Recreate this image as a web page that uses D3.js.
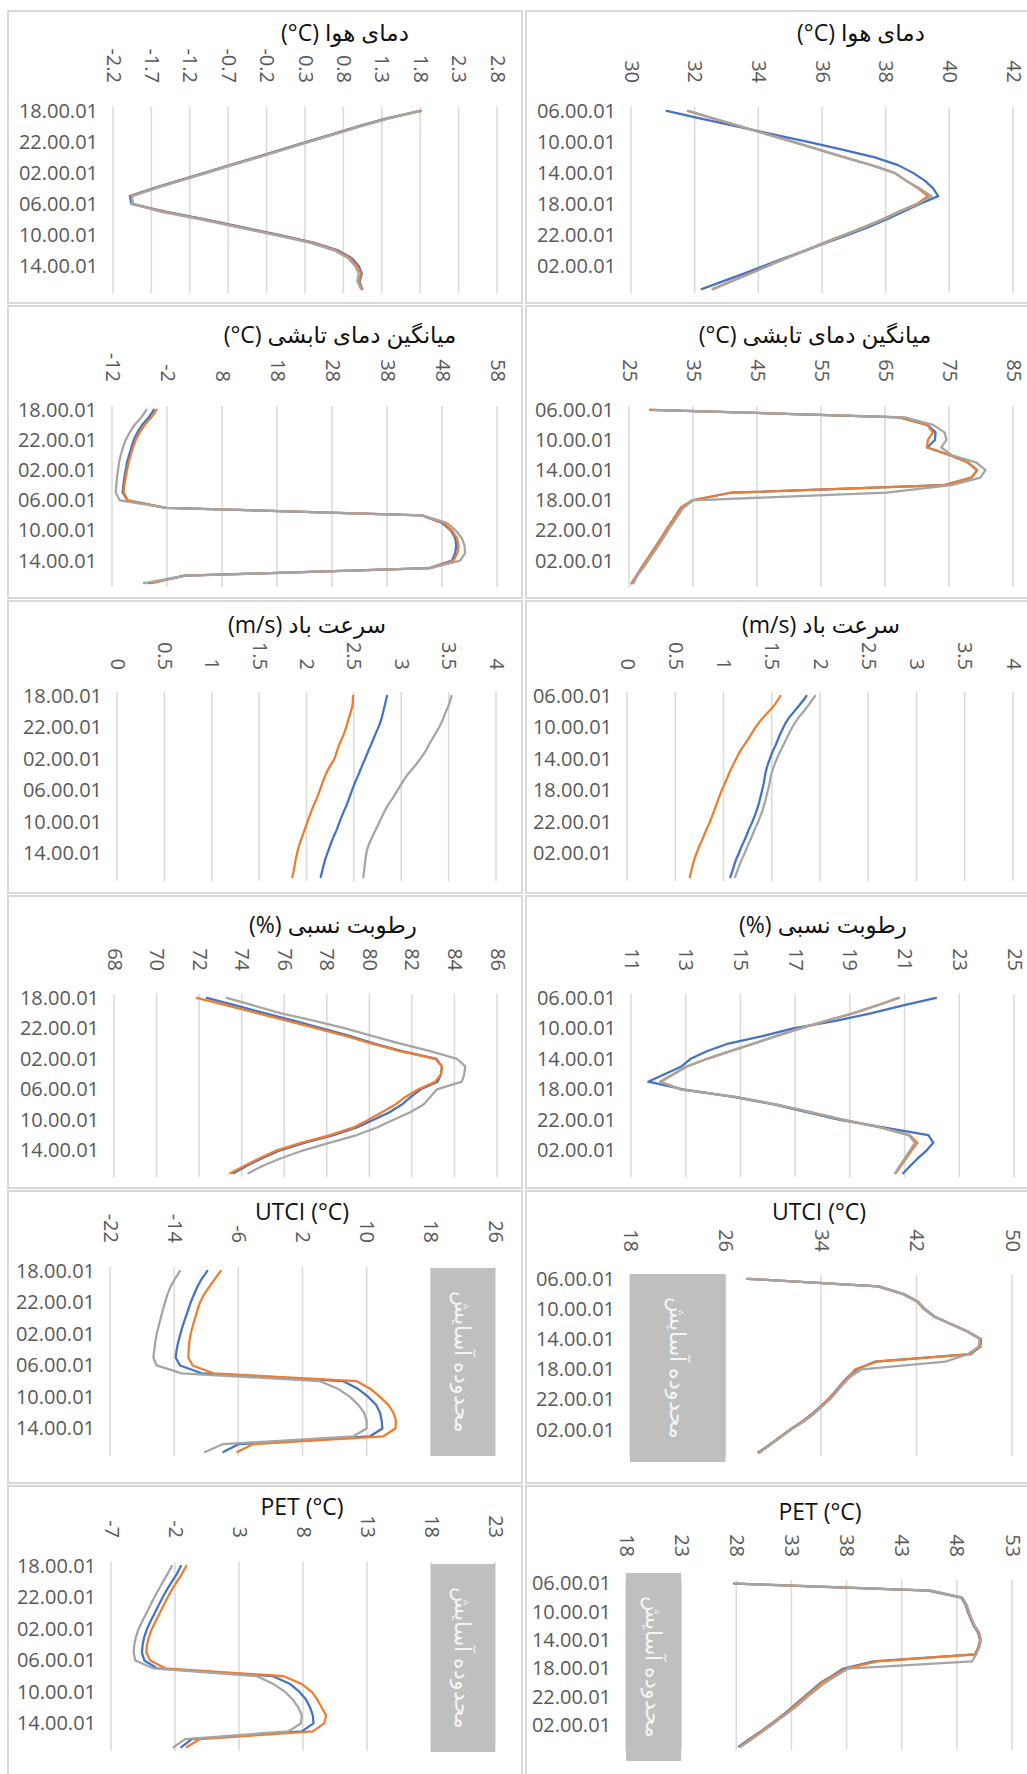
<!DOCTYPE html>
<html>
<head>
<meta charset="utf-8">
<script src="https://cdn.jsdelivr.net/npm/d3@7"></script>
<style>
  html, body { margin: 0; padding: 0; background: #fff; }
  svg text { font-family: "Open Sans", "DejaVu Sans", sans-serif; }
</style>
</head>
<body>
<div id="chart"></div>
<script>
// hourly categories (left column starts at 18h, right column at 06h)
var hoursLeft = ["18.00.01","19.00.01","20.00.01","21.00.01","22.00.01","23.00.01","00.00.01","01.00.01",
  "02.00.01","03.00.01","04.00.01","05.00.01","06.00.01","07.00.01","08.00.01","09.00.01",
  "10.00.01","11.00.01","12.00.01","13.00.01","14.00.01","15.00.01","16.00.01","17.00.01"];
var hoursRight = ["06.00.01","07.00.01","08.00.01","09.00.01","10.00.01","11.00.01","12.00.01","13.00.01",
  "14.00.01","15.00.01","16.00.01","17.00.01","18.00.01","19.00.01","20.00.01","21.00.01",
  "22.00.01","23.00.01","00.00.01","01.00.01","02.00.01","03.00.01","04.00.01","05.00.01"];

// value axis ticks
var ticksAirL = [-2.2, -1.7, -1.2, -0.7, -0.2, 0.3, 0.8, 1.3, 1.8, 2.3, 2.8];
var ticksAirR = [30, 32, 34, 36, 38, 40, 42];
var ticksMrtL = [-12, -2, 8, 18, 28, 38, 48, 58];
var ticksMrtR = [25, 35, 45, 55, 65, 75, 85];
var ticksWind = [0, 0.5, 1, 1.5, 2, 2.5, 3, 3.5, 4];
var ticksRhL = [68, 70, 72, 74, 76, 78, 80, 82, 84, 86];
var ticksRhR = [11, 13, 15, 17, 19, 21, 23, 25];
var ticksUtciL = [-22, -14, -6, 2, 10, 18, 26];
var ticksUtciR = [18, 26, 34, 42, 50];
var ticksPetL = [-7, -2, 3, 8, 13, 18, 23];
var ticksPetR = [18, 23, 28, 33, 38, 43, 48, 53];

// comfort ranges
var utciComfort = [18, 26];
var petComfort = [18, 23];

// air temperature
var airL_blue   = [1.80,1.35,0.99,0.66,0.32,-0.01,-0.34,-0.68,-1.01,-1.35,-1.68,-1.98,-1.96,-1.52,-1.00,-0.52,-0.04,0.41,0.73,0.91,1.00,1.04,1.01,1.04];
var airL_orange = [1.81,1.37,1.01,0.68,0.34,0.01,-0.32,-0.66,-0.99,-1.33,-1.66,-1.96,-1.94,-1.55,-1.03,-0.55,-0.07,0.39,0.71,0.89,0.98,1.03,1.00,1.05];
var airL_gray   = [1.79,1.38,1.02,0.69,0.35,0.02,-0.31,-0.65,-0.98,-1.32,-1.65,-1.95,-1.95,-1.58,-1.06,-0.58,-0.10,0.36,0.68,0.86,0.95,1.00,0.98,1.03];
var airR_blue   = [31.12,32.20,33.32,34.42,35.56,36.64,37.66,38.39,38.86,39.23,39.49,39.65,39.07,38.55,38.02,37.45,36.81,36.14,35.49,34.82,34.18,33.55,32.88,32.22];
var airR_orange = [31.78,32.60,33.43,34.25,35.08,35.90,36.70,37.55,38.27,38.64,39.02,39.33,38.98,38.42,37.90,37.32,36.70,36.07,35.49,34.87,34.29,33.72,33.14,32.56];
var airR_gray   = [31.80,32.61,33.45,34.26,35.10,35.91,36.72,37.56,38.29,38.65,39.07,39.44,39.02,38.44,37.92,37.34,36.72,36.09,35.51,34.89,34.31,33.74,33.16,32.58];

// mean radiant temperature
var mrtL_blue   = [-4.4,-5.3,-6.5,-7.4,-8.05,-8.48,-8.9,-9.27,-9.51,-9.75,-9.94,-10.06,-9.2,-2.28,44.35,48.0,49.6,50.4,50.6,50.4,49.8,45.7,1.2,-5.3];
var mrtL_orange = [-3.92,-4.84,-6.05,-6.96,-7.69,-8.17,-8.6,-8.96,-9.27,-9.51,-9.75,-9.87,-9.09,-2.1,44.35,48.3,49.8,50.7,51.0,50.8,50.1,45.9,1.24,-4.8];
var mrtL_gray   = [-5.75,-6.66,-7.87,-8.78,-9.51,-10.0,-10.42,-10.72,-10.9,-11.09,-11.21,-11.33,-10.6,-2.1,44.4,48.9,50.5,51.6,52.1,52.2,51.3,45.9,1.5,-6.2];
var mrtR_blue   = [28.28,67.3,71.6,72.9,72.8,71.6,75.1,77.97,79.4,78.5,74.3,40.9,34.94,33.1,32.34,31.56,30.78,30.05,29.27,28.49,27.7,26.93,26.2,25.42];
var mrtR_orange = [28.28,67.3,71.57,72.5,71.7,71.57,75.1,77.97,79.4,78.5,74.3,40.9,34.94,33.1,32.34,31.56,30.78,30.05,29.27,28.49,27.7,26.93,26.2,25.42];
var mrtR_gray   = [28.8,68.1,72.5,74.3,74.6,73.8,75.4,79.3,80.7,79.9,75.4,65.2,35.0,33.5,32.7,31.9,31.1,30.4,29.6,28.8,28.0,27.2,26.3,25.7];

// wind speed
var windL_blue   = [2.85,2.83,2.81,2.79,2.76,2.72,2.69,2.65,2.62,2.58,2.55,2.51,2.48,2.45,2.42,2.38,2.35,2.32,2.28,2.25,2.22,2.19,2.17,2.15];
var windL_orange = [2.49,2.49,2.47,2.44,2.42,2.39,2.35,2.32,2.30,2.24,2.2,2.17,2.14,2.11,2.07,2.04,2.01,1.98,1.95,1.92,1.9,1.88,1.87,1.85];
var windL_gray   = [3.53,3.51,3.47,3.44,3.4,3.35,3.3,3.26,3.2,3.14,3.06,3.01,2.96,2.91,2.85,2.81,2.77,2.73,2.69,2.65,2.63,2.62,2.61,2.6];
var windR_blue   = [1.86,1.80,1.73,1.66,1.62,1.58,1.55,1.51,1.48,1.45,1.43,1.42,1.40,1.38,1.36,1.33,1.30,1.26,1.23,1.19,1.16,1.12,1.10,1.07];
var windR_orange = [1.59,1.54,1.47,1.39,1.33,1.28,1.23,1.17,1.13,1.09,1.05,1.02,0.98,0.95,0.92,0.89,0.86,0.82,0.79,0.75,0.72,0.69,0.67,0.65];
var windR_gray   = [1.95,1.89,1.83,1.76,1.71,1.67,1.63,1.59,1.55,1.52,1.49,1.48,1.46,1.44,1.42,1.39,1.36,1.32,1.29,1.25,1.22,1.18,1.15,1.12];

// relative humidity
var rhL_blue   = [72.36,73.71,75.07,76.44,77.77,79.07,80.23,81.53,83.15,83.41,83.37,83.21,82.42,81.95,81.53,80.95,80.2,79.41,78.32,76.98,75.81,74.99,74.27,73.61];
var rhL_orange = [71.89,73.3,74.71,76.12,77.53,78.88,80.12,81.45,83.1,83.41,83.37,83.1,82.31,81.69,81.22,80.59,79.96,79.26,78.16,76.83,75.65,74.87,74.16,73.46];
var rhL_gray   = [73.3,74.55,75.81,77.38,78.87,80.12,81.45,82.86,84.12,84.51,84.46,84.35,83.18,82.86,82.55,81.92,81.14,80.36,79.41,78.16,76.9,75.89,75.02,74.32];
var rhR_blue   = [22.15,20.95,19.8,18.52,16.93,15.84,14.56,13.77,13.18,12.85,12.24,11.63,12.91,14.74,16.26,17.42,18.64,20.22,21.87,22.05,21.81,21.5,21.22,20.95];
var rhR_orange = [20.8,20.0,19.15,18.17,17.2,16.34,15.49,14.64,13.79,13.05,12.57,12.08,12.81,14.82,16.34,17.56,18.78,20.12,21.18,21.47,21.26,21.07,20.87,20.68];
var rhR_gray   = [20.77,19.98,19.13,18.15,17.18,16.32,15.47,14.62,13.77,13.03,12.55,12.06,12.79,14.8,16.32,17.54,18.76,20.1,21.14,21.38,21.2,21.02,20.83,20.65];

// UTCI
var utciL_blue   = [-9.86,-10.57,-11.11,-11.53,-11.94,-12.27,-12.61,-12.94,-13.23,-13.48,-13.69,-13.81,-13.27,-10.57,7.09,8.96,10.21,11.17,11.67,11.87,11.96,10.42,-6.0,-7.87];
var utciL_orange = [-8.2,-8.91,-9.61,-10.28,-10.78,-11.11,-11.4,-11.69,-11.94,-12.11,-12.19,-12.23,-11.69,-9.12,8.76,10.5,11.67,12.7,13.33,13.66,13.58,12.08,-4.21,-6.12];
var utciL_gray   = [-13.27,-13.9,-14.44,-14.85,-15.14,-15.43,-15.68,-15.93,-16.18,-16.35,-16.47,-16.6,-16.18,-13.06,4.18,6.47,7.93,8.96,9.67,10.0,10.0,8.34,-7.95,-10.15];
var utciR_blue   = [27.84,38.75,40.9,42.1,42.7,43.5,44.9,46.3,47.4,47.35,46.55,38.5,37.0,36.25,35.7,35.15,34.6,33.9,33.2,32.35,31.4,30.55,29.7,28.76];
var utciR_orange = [27.84,38.82,40.78,42.04,42.6,43.43,44.83,46.23,47.35,47.29,46.51,38.68,36.87,36.31,35.75,35.19,34.63,33.93,33.23,32.39,31.42,30.58,29.74,28.84];
var utciR_gray   = [27.9,38.9,40.85,42.1,42.65,43.5,44.9,46.3,47.3,47.2,46.3,44.41,37.42,36.45,35.85,35.3,34.75,34.05,33.35,32.5,31.5,30.65,29.8,28.9];

// PET
var petL_blue   = [-1.54,-1.85,-2.24,-2.63,-2.97,-3.28,-3.59,-3.9,-4.19,-4.4,-4.53,-4.58,-4.4,-3.41,5.65,7.0,7.73,8.25,8.56,8.77,8.82,7.91,-0.68,-1.51];
var petL_orange = [-1.12,-1.46,-1.85,-2.24,-2.58,-2.89,-3.2,-3.51,-3.8,-4.03,-4.19,-4.24,-3.93,-2.76,6.48,7.91,8.69,9.13,9.47,9.81,9.65,8.77,-0.08,-1.07];
var petL_gray   = [-2.24,-2.58,-2.94,-3.28,-3.62,-3.93,-4.24,-4.55,-4.84,-5.05,-5.18,-5.23,-5.1,-3.72,4.4,5.7,6.61,7.21,7.65,7.91,7.83,6.87,-1.2,-2.11];
var petR_blue   = [27.8,45.44,48.4,48.8,49.0,49.25,49.55,49.95,50.1,49.95,49.65,40.44,37.72,36.7,35.65,34.9,34.15,33.4,32.65,31.85,31.0,30.1,29.15,28.25];
var petR_orange = [27.89,45.59,48.46,48.85,49.06,49.28,49.58,49.97,50.12,49.97,49.67,40.75,37.96,36.81,35.76,35.0,34.24,33.49,32.73,31.91,31.07,30.16,29.25,28.34];
var petR_gray   = [27.95,45.7,48.5,48.9,49.1,49.35,49.65,50.05,50.2,50.05,49.75,49.37,38.17,37.1,36.06,35.24,34.45,33.73,32.9,32.05,31.2,30.3,29.4,28.45];

var seriesColors = ["#4472C4", "#ED7D31", "#A5A5A5"];

// panel table built from the arrays above
var panels = [
  {id: "L1", title: "(°C) دمای هوا", hours: hoursLeft, ticks: ticksAirL, series: [airL_blue, airL_orange, airL_gray]},
  {id: "R1", title: "(°C) دمای هوا", hours: hoursRight, ticks: ticksAirR, series: [airR_blue, airR_orange, airR_gray]},
  {id: "L2", title: "(°C) میانگین دمای تابشی", hours: hoursLeft, ticks: ticksMrtL, series: [mrtL_blue, mrtL_orange, mrtL_gray]},
  {id: "R2", title: "(°C) میانگین دمای تابشی", hours: hoursRight, ticks: ticksMrtR, series: [mrtR_blue, mrtR_orange, mrtR_gray]},
  {id: "L3", title: "(m/s) سرعت باد", hours: hoursLeft, ticks: ticksWind, series: [windL_blue, windL_orange, windL_gray], smooth: true},
  {id: "R3", title: "(m/s) سرعت باد", hours: hoursRight, ticks: ticksWind, series: [windR_blue, windR_orange, windR_gray], smooth: true},
  {id: "L4", title: "(%) رطوبت نسبی", hours: hoursLeft, ticks: ticksRhL, series: [rhL_blue, rhL_orange, rhL_gray]},
  {id: "R4", title: "(%) رطوبت نسبی", hours: hoursRight, ticks: ticksRhR, series: [rhR_blue, rhR_orange, rhR_gray]},
  {id: "L5", title: "UTCI (°C)", hours: hoursLeft, ticks: ticksUtciL, series: [utciL_blue, utciL_orange, utciL_gray], comfort: utciComfort},
  {id: "R5", title: "UTCI (°C)", hours: hoursRight, ticks: ticksUtciR, series: [utciR_blue, utciR_orange, utciR_gray], comfort: utciComfort},
  {id: "L6", title: "PET (°C)", hours: hoursLeft, ticks: ticksPetL, series: [petL_blue, petL_orange, petL_gray], comfort: petComfort},
  {id: "R6", title: "PET (°C)", hours: hoursRight, ticks: ticksPetR, series: [petR_blue, petR_orange, petR_gray], comfort: petComfort}
];

// where each panel's plot area, tick labels and title sit on the page
var layout = {
  L1: {x0: 113, x1: 497, y0: 107, y1: 293, tickY: 83, tx: 345, ty: 33},
  R1: {x0: 631, x1: 1013, y0: 107, y1: 293, tickY: 83, tx: 861, ty: 33},
  L2: {x0: 112, x1: 497, y0: 406, y1: 587, tickY: 382, tx: 340, ty: 335},
  R2: {x0: 629, x1: 1013, y0: 406, y1: 587, tickY: 382, tx: 815, ty: 335},
  L3: {x0: 117, x1: 496, y0: 692, y1: 881, tickY: 670, tx: 307, ty: 625},
  R3: {x0: 627, x1: 1013, y0: 692, y1: 881, tickY: 670, tx: 821, ty: 625},
  L4: {x0: 114, x1: 497, y0: 994, y1: 1177, tickY: 971, tx: 333, ty: 925},
  R4: {x0: 631, x1: 1014, y0: 994, y1: 1177, tickY: 971, tx: 823, ty: 925},
  L5: {x0: 110, x1: 495, y0: 1267, y1: 1456, tickY: 1243, tx: 302, ty: 1212, rt: 1, rb: 0},
  R5: {x0: 630, x1: 1012, y0: 1275, y1: 1456, tickY: 1252, tx: 819, ty: 1212, rt: -1, rb: 6},
  L6: {x0: 111, x1: 495, y0: 1562, y1: 1751, tickY: 1538, tx: 302, ty: 1507, rt: 2, rb: 1},
  R6: {x0: 626, x1: 1012, y0: 1580, y1: 1750, tickY: 1557, tx: 820, ty: 1512, rt: -7, rb: 11}
};

var rowTops = [11, 306, 601, 896, 1191, 1486];
var colEdges = [[8, 522], [526, 1040]];

var svg = d3.select("#chart").append("svg")
    .attr("width", 1027)
    .attr("height", 1774);

svg.append("rect")
    .attr("width", 1027).attr("height", 1774)
    .attr("fill", "#fff");

// panel frames
rowTops.forEach(function (top, r) {
  colEdges.forEach(function (c) {
    svg.append("rect")
        .attr("x", c[0]).attr("y", top)
        .attr("width", c[1] - c[0])
        .attr("height", r === 5 ? 320 : 292)
        .attr("fill", "none")
        .attr("stroke", "#d9d9d9")
        .attr("stroke-width", 2);
  });
});

function drawPanel(p) {
  var L = layout[p.id];
  var g = svg.append("g").attr("class", "panel-" + p.id);

  var x = d3.scaleLinear()
      .domain([p.ticks[0], p.ticks[p.ticks.length - 1]])
      .range([L.x0, L.x1]);
  var y = d3.scalePoint()
      .domain(p.hours)
      .range([L.y0, L.y1])
      .padding(0.5);

  // vertical gridlines
  g.selectAll(".grid").data(p.ticks).enter().append("line")
      .attr("class", "grid")
      .attr("x1", function (d) { return x(d); })
      .attr("x2", function (d) { return x(d); })
      .attr("y1", L.y0).attr("y2", L.y1)
      .attr("stroke", "#d9d9d9")
      .attr("stroke-width", 1.5);

  // comfort band
  if (p.comfort) {
    var cx0 = x(p.comfort[0]), cx1 = x(p.comfort[1]);
    var cy0 = L.y0 + (L.rt || 0), cy1 = L.y1 + (L.rb || 0);
    g.append("rect")
        .attr("x", cx0).attr("y", cy0)
        .attr("width", cx1 - cx0).attr("height", cy1 - cy0)
        .attr("fill", "#bfbfbf");
    g.append("text")
        .attr("transform", "translate(" + ((cx0 + cx1) / 2) + "," + ((cy0 + cy1) / 2) + ") rotate(90)")
        .attr("text-anchor", "middle")
        .attr("dy", "0.35em")
        .style("font-family", "'DejaVu Sans', sans-serif")
        .style("font-size", "22px")
        .style("font-weight", "300")
        .attr("fill", "#f4f4f4")
        .text("محدوده آسایش");
  }

  // value axis on top, labels turned on their side
  var xAxis = d3.axisTop(x)
      .tickValues(p.ticks)
      .tickSize(0)
      .tickPadding(0)
      .tickFormat(function (d) { return String(d); });
  var ax = g.append("g")
      .attr("transform", "translate(0," + L.tickY + ")")
      .call(xAxis);
  ax.select(".domain").remove();
  ax.selectAll("text")
      .attr("x", 0).attr("y", 0)
      .attr("dy", "0.35em")
      .attr("transform", "rotate(90)")
      .style("text-anchor", "end")
      .style("font-size", "20px")
      .attr("fill", "#595959");

  // time axis, every fourth hour labelled
  var yAxis = d3.axisLeft(y)
      .tickValues(p.hours.filter(function (d, i) { return i % 4 === 0; }))
      .tickSize(0)
      .tickPadding(15);
  var ay = g.append("g")
      .attr("transform", "translate(" + L.x0 + ",0)")
      .call(yAxis);
  ay.select(".domain").remove();
  ay.selectAll("text")
      .style("font-size", "20px")
      .attr("fill", "#595959");

  // series lines (wind panels are smoothed like the original)
  var line = d3.line()
      .x(function (d) { return x(d.v); })
      .y(function (d) { return y(d.h); })
      .curve(p.smooth ? d3.curveBasis : d3.curveLinear);

  p.series.forEach(function (vals, k) {
    g.append("path")
        .datum(vals.map(function (v, i) { return {v: v, h: p.hours[i]}; }))
        .attr("d", line)
        .attr("fill", "none")
        .attr("stroke", seriesColors[k])
        .attr("stroke-width", 2.25)
        .attr("stroke-linejoin", "round")
        .attr("stroke-linecap", "round");
  });

  // title
  g.append("text")
      .attr("x", L.tx).attr("y", L.ty)
      .attr("dy", "0.35em")
      .attr("text-anchor", "middle")
      .style("font-size", "23px")
      .attr("fill", "#111")
      .text(p.title);
}

panels.forEach(drawPanel);
</script>
</body>
</html>
